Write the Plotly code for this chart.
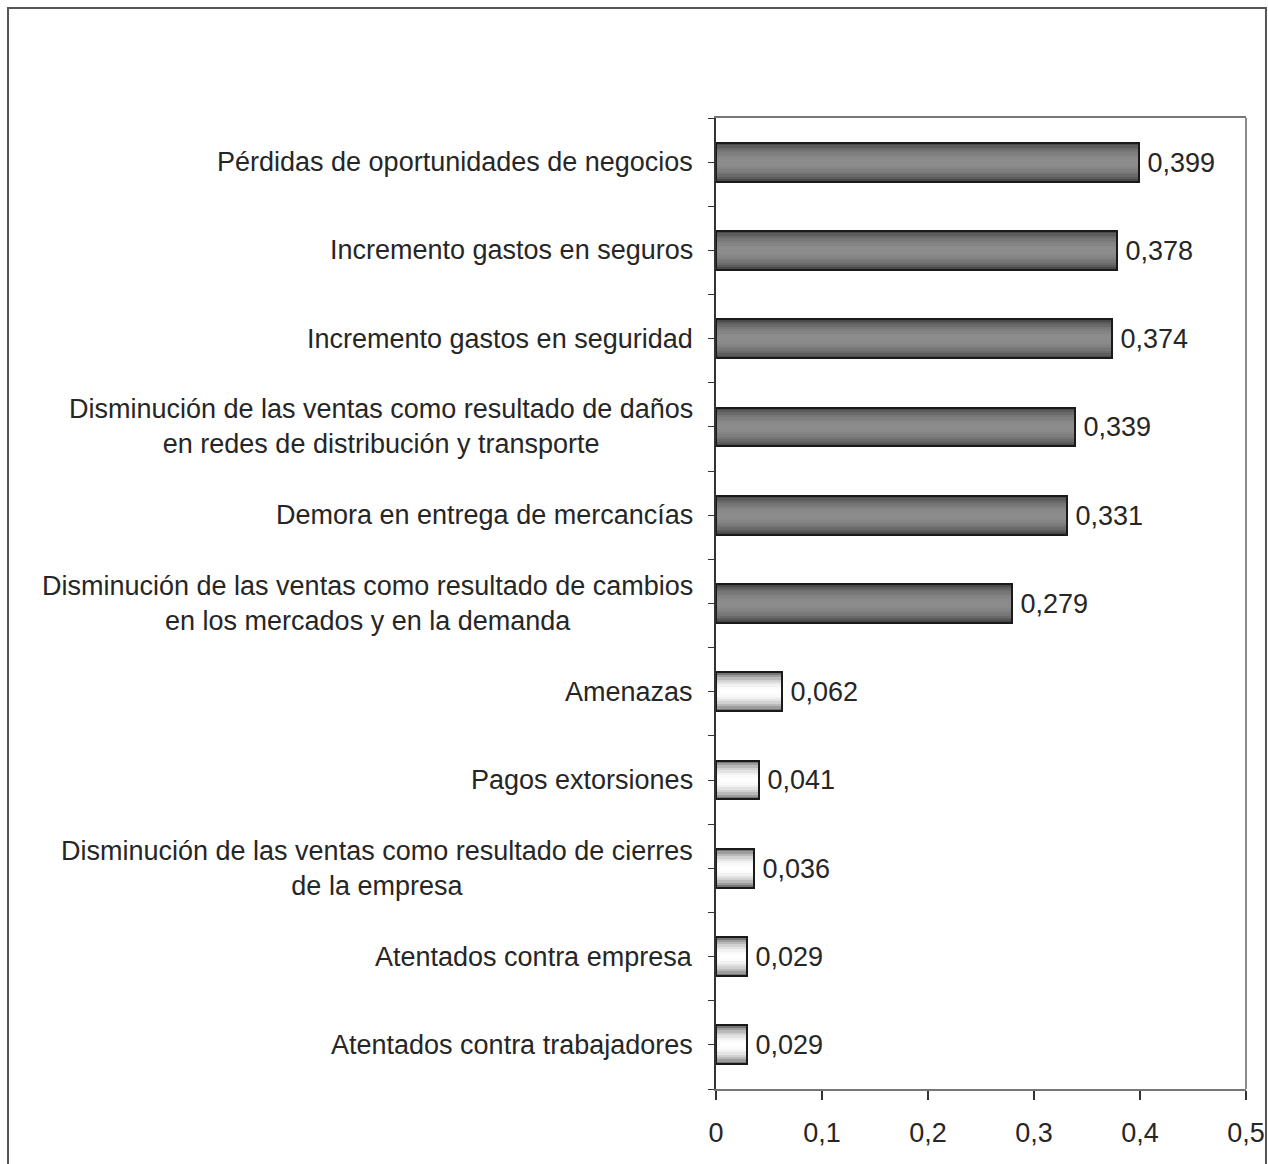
import plotly.graph_objects as go
import math

categories = [
    "Pérdidas de oportunidades de negocios",
    "Incremento gastos en seguros",
    "Incremento gastos en seguridad",
    "Disminución de las ventas como resultado de daños<br>en redes de distribución y transporte",
    "Demora en entrega de mercancías",
    "Disminución de las ventas como resultado de cambios<br>en los mercados y en la demanda",
    "Amenazas",
    "Pagos extorsiones",
    "Disminución de las ventas como resultado de cierres<br>de la empresa",
    "Atentados contra empresa",
    "Atentados contra trabajadores",
]
values = [0.399, 0.378, 0.374, 0.339, 0.331, 0.279, 0.062, 0.041, 0.036, 0.029, 0.029]
groups = ["alto"] * 6 + ["bajo"] * 5
xtick_vals = [0, 0.1, 0.2, 0.3, 0.4, 0.5]
xtick_text = ["0", "0,1", "0,2", "0,3", "0,4", "0,5"]

FONT = "Liberation Sans, Arial, sans-serif"
FS = 27
TXT = "#262626"

pos = list(range(len(categories)))
W = 0.44
N = 16

def shade(t, dark, light):
    f = math.sin(math.pi * t) ** 0.7
    v = int(round(dark + (light - dark) * f))
    return f"rgb({v},{v},{v})"

fig = go.Figure()
for k in range(N):
    t = (k + 0.5) / N
    cols = [shade(t, 58, 140) if g == "alto" else shade(t, 85, 255) for g in groups]
    fig.add_trace(go.Bar(
        x=values, y=pos, orientation="h",
        width=W / N, offset=-W / 2 + k * W / N,
        marker=dict(color=cols, line=dict(width=0)),
        hoverinfo="skip", showlegend=False,
    ))

fig.add_trace(go.Bar(
    x=values, y=pos, orientation="h", width=W,
    marker=dict(color="rgba(0,0,0,0)", line=dict(color="#1a1a1a", width=2)),
    text=values, texttemplate="\u2009%{x:.3f}", textposition="outside",
    textfont=dict(family=FONT, size=FS, color=TXT),
    constraintext="none", cliponaxis=False, showlegend=False,
))

for p, c in zip(pos, categories):
    fig.add_annotation(
        x=-0.04, xref="paper", y=p, yref="y", text=c, showarrow=False,
        xanchor="right", yanchor="middle", align="center",
        font=dict(family=FONT, size=FS, color=TXT),
    )

fig.add_shape(type="line", xref="paper", yref="paper", x0=1, x1=1, y0=0, y1=1,
              line=dict(color="#8a8a8a", width=2))
fig.add_shape(type="rect", xref="paper", yref="paper",
              x0=-1.3358, x1=1.0377, y0=-0.3, y1=1.1133,
              line=dict(color="#555555", width=2), layer="below")

fig.update_layout(
    width=1268, height=1164,
    margin=dict(l=716, r=22, t=118, b=75, autoexpand=False),
    plot_bgcolor="white", paper_bgcolor="white",
    barmode="overlay", bargap=0,
    separators=",.",
    font=dict(family=FONT, size=FS, color=TXT),
    xaxis=dict(
        range=[0, 0.5], tickvals=xtick_vals, ticktext=xtick_text,
        automargin=False,
        showgrid=False, zeroline=False,
        showline=True, linecolor="#777777", linewidth=2, mirror=True,
        ticks="outside", ticklen=9, tickcolor="#333333", tickwidth=1.5,
        ticklabelstandoff=10,
        tickfont=dict(family=FONT, size=FS, color=TXT),
    ),
    yaxis=dict(
        range=[len(categories) - 0.5, -0.5], tickvals=pos,
        automargin=False,
        showticklabels=False, showgrid=False, zeroline=False,
        showline=True, linecolor="#333333", linewidth=1.5,
        ticks="outside", ticklen=6, tickcolor="#333333", tickwidth=1.2,
        minor=dict(tick0=0.5, dtick=1, ticks="outside", ticklen=6,
                   tickcolor="#333333", tickwidth=1.2, showgrid=False),
    ),
)

fig.write_html("out.html")
